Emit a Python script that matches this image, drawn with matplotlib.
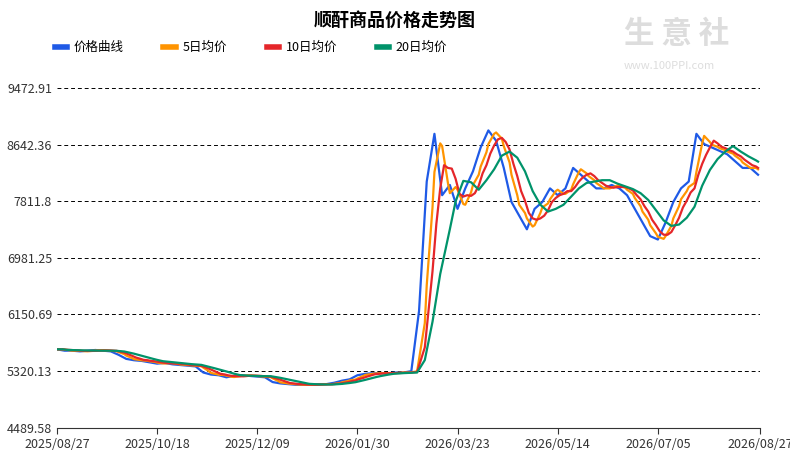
import matplotlib.pyplot as plt
import pandas as pd

plt.rcParams['font.family'] = ['Noto Sans CJK SC', 'DejaVu Sans']

# price sampled every 4 days starting 2025/08/27
price = [5640, 5620, 5620, 5610, 5620, 5630, 5620, 5610, 5560, 5500, 5480, 5470, 5450, 5430,
         5440, 5420, 5410, 5400, 5390, 5300, 5270, 5260, 5230, 5250, 5260, 5250, 5240, 5230,
         5160, 5140, 5130, 5120, 5120, 5120, 5130, 5130, 5150, 5180, 5200, 5260, 5280, 5290,
         5290, 5290, 5300, 5300, 5320, 6200, 8100, 8800, 7900, 8050, 7700, 8000, 8250, 8600,
         8850, 8700, 8300, 7800, 7600, 7400, 7700, 7800, 8000, 7900, 8000, 8300, 8200, 8100,
         8000, 8000, 8050, 8000, 7900, 7700, 7500, 7300, 7250, 7500, 7800, 8000, 8100, 8800,
         8650, 8600, 8550, 8500, 8400, 8300, 8300, 8200]
yticks = [4489.58, 5320.13, 6150.69, 6981.25, 7811.8, 8642.36, 9472.91]
xlabels = ['2025/08/27', '2025/10/18', '2025/12/09', '2026/01/30',
           '2026/03/23', '2026/05/14', '2026/07/05', '2026/08/27']

dates = pd.date_range('2025-08-27', periods=len(price), freq='4D')
s = pd.Series(price, index=dates).resample('D').ffill()
ma5 = s.rolling(5, min_periods=1).mean()
ma10 = s.rolling(10, min_periods=1).mean()
ma20 = s.rolling(20, min_periods=1).mean()

fig = plt.figure(figsize=(7.9, 4.58), dpi=100)
ax = fig.add_axes([0.072, 0.066, 0.89, 0.742])
ax.plot(dates, price, color='#1f5ae6', lw=1.6, label='价格曲线')
ax.plot(ma5.index, ma5.values, color='#ff9400', lw=1.6, label='5日均价')
ax.plot(ma10.index, ma10.values, color='#e5262a', lw=1.6, label='10日均价')
ax.plot(ma20.index, ma20.values, color='#00936a', lw=1.6, label='20日均价')

xt = pd.to_datetime([l.replace('/', '-') for l in xlabels])
ax.set_xticks(xt)
ax.set_xticklabels(xlabels, fontsize=9, color='#333333')
ax.set_xlim(xt[0], xt[-1])
ax.set_ylim(yticks[0], yticks[-1])
ax.set_yticks(yticks)
ax.set_yticklabels([str(v) for v in yticks], fontsize=9, color='#333333')
ax.grid(axis='y', color='black', linestyle=(0, (4, 3)), lw=0.7)
for sp in ['top', 'right', 'left']:
    ax.spines[sp].set_visible(False)
ax.spines['bottom'].set_color('#333333')
ax.tick_params(axis='y', length=0)
ax.tick_params(axis='x', length=4, color='#333333')

fig.text(0.5, 0.955, '顺酐商品价格走势图', ha='center', va='center', fontsize=13, fontweight='bold')
leg = fig.legend(loc='upper left', bbox_to_anchor=(0.055, 0.935), ncol=4, frameon=False,
                 fontsize=9, handlelength=1.0, columnspacing=3.2, handletextpad=0.5)
for h in leg.legend_handles:
    h.set_linewidth(4)
fig.text(0.79, 0.925, '生 意 社', fontsize=22, color='#dddddd', fontweight='bold', va='center')
fig.text(0.79, 0.855, 'www.100PPI.com', fontsize=8, color='#dddddd', va='center')

plt.savefig('out.png')
plt.close()
